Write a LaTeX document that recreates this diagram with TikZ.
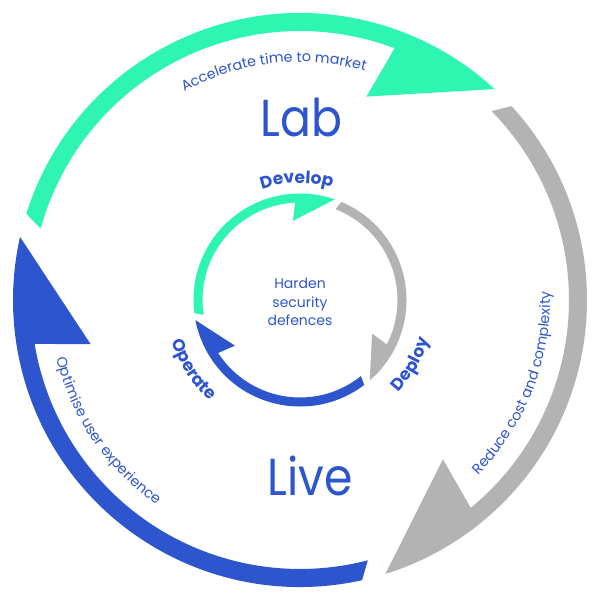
\documentclass[tikz,border=0pt]{standalone}
\usepackage{fontspec}
\setmainfont{Poppins}
\usetikzlibrary{decorations.text}
\definecolor{arcgreen}{HTML}{2EF5B0}
\definecolor{arcblue}{HTML}{2D55CD}
\definecolor{arcgray}{HTML}{B3B3B3}
\definecolor{txtblue}{HTML}{2D55CD}
% color, tail outer angle, tail inner angle, tip angle, back inner-band angle, back point angle, Rout, Rin, Rback
\newcommand{\ringarrow}[9]{%
  \fill[#1] (#2:#7pt) arc[start angle=#2, end angle=#4, radius=#7pt]
    -- (#6:#9pt) -- (#5:#8pt)
    arc[start angle=#5, end angle=#3, radius=#8pt] -- cycle;}
\newcommand{\arctext}[5]{% radius, start, end, font, text
  \path[decorate, decoration={text along path, text align=center,
      text color=txtblue, text={|#4|#5}}]
    (#2:#1pt) arc[start angle=#2, end angle=#3, radius=#1pt];}
\newcommand{\smallfont}{\fontsize{14.3}{16}\selectfont}
\newcommand{\boldlabel}{\fontsize{17}{19}\selectfont\bfseries}
\tikzset{
  bigword/.style={text=txtblue, inner sep=0pt, anchor=base, font=\fontsize{52}{52}\selectfont, xscale=0.88},
  centertext/.style={text=txtblue, align=center, inner sep=0pt, font=\fontsize{14}{18.5}\selectfont}
}
\begin{document}
\begin{tikzpicture}
\useasboundingbox (-300pt,-300pt) rectangle (300pt,300pt);
% outer ring
\ringarrow{arcgreen}{162.5}{164.6}{47.3}{69.4}{71.9}{287}{269}{214}
\ringarrow{arcgray}{42.5}{44.6}{-72.7}{-50.6}{-48.1}{287}{269}{214}
\ringarrow{arcblue}{-77.5}{-75.4}{-192.7}{-170.6}{-168.1}{287}{269}{214}
% inner ring
\ringarrow{arcgreen}{187.1}{188.7}{70.9}{92.9}{95.1}{106.5}{97.5}{79.5}
\ringarrow{arcgray}{67.1}{68.7}{-49.1}{-27.1}{-24.9}{106.5}{97.5}{79.5}
\ringarrow{arcblue}{307.1}{308.7}{190.9}{212.9}{215.1}{106.5}{97.5}{79.5}
% curved texts on outer ring
\arctext{238}{146.6}{46.6}{\smallfont}{Accelerate time to market}
\arctext{250}{-71.3}{28.7}{\smallfont}{Reduce cost and complexity}
\arctext{250}{164.2}{264.2}{\smallfont}{Optimise user experience}
% curved labels on inner ring
\arctext{117}{141.5}{41.5}{\boldlabel}{Develop}
\arctext{135}{-80}{20}{\boldlabel}{Deploy}
\arctext{135}{163}{263}{\boldlabel}{Operate}
% words
\node[bigword] (lab) at (1.5pt,163pt) {Lab};
\node[bigword] (live) at (10pt,-195pt) {Live};
\node[centertext] (harden) at (0pt,-2pt) {Harden\\security\\defences};
\end{tikzpicture}
\end{document}
